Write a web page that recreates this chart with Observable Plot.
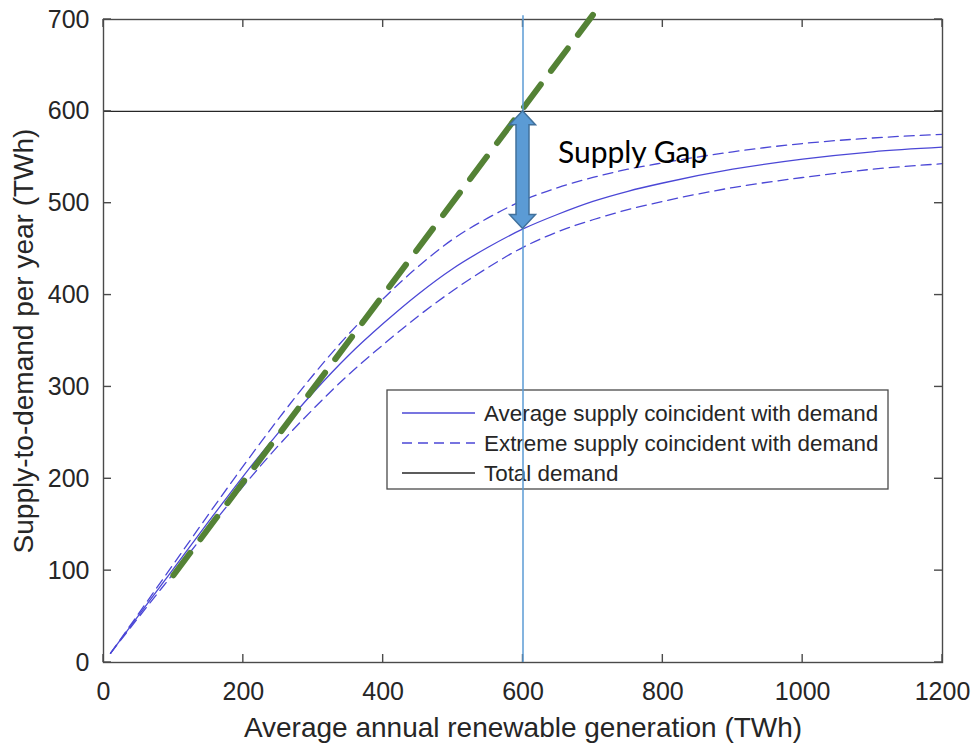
<!DOCTYPE html>
<html>
<head>
<meta charset="utf-8">
<script src="https://cdn.jsdelivr.net/npm/d3@7"></script>
<script src="https://cdn.jsdelivr.net/npm/@observablehq/plot@0.6"></script>
<style>
  html, body { margin: 0; padding: 0; background: #ffffff; }
  #chart { position: relative; width: 973px; height: 743px; }
</style>
</head>
<body>
<div id="chart"></div>
<script>
// ---- data ----
const xGen        = [10, 50, 100, 150, 200, 250, 300, 350, 400, 450, 500, 550, 600, 650, 700, 750, 800, 900, 1000, 1100, 1200];
const avgSupply   = [10, 51, 102, 153, 203, 250, 294, 334, 369, 401, 429, 452, 472, 488, 502, 513, 522, 537, 548, 556, 561];
const extremeHigh = [10, 53, 107, 161, 214, 265, 313, 357, 396, 431, 461, 484, 503, 517, 528, 537, 544, 556, 565, 571, 575];
const extremeLow  = [10, 49, 97, 145, 192, 236, 276, 313, 346, 377, 405, 430, 452, 469, 482, 493, 502, 517, 528, 537, 543];
const totalDemand = [600];
const greenX = [100, 700];
const greenY = [95, 705];
const gapX = [600];
const gapTop = [600];
const gapBottom = [472];
const ruleExtent = [0, 704];
const gapLabel = ["Supply Gap"];
const gapLabelX = [650];
const gapLabelY = [554];
const xTicks = [0, 200, 400, 600, 800, 1000, 1200];
const yTicks = [0, 100, 200, 300, 400, 500, 600, 700];
const xLabel = "Average annual renewable generation (TWh)";
const yLabel = "Supply-to-demand per year (TWh)";
const legendLabels = ["Average supply coincident with demand", "Extreme supply coincident with demand", "Total demand"];

const rows = xGen.map((x, i) => ({x, avg: avgSupply[i], hi: extremeHigh[i], lo: extremeLow[i]}));
const greenRows = greenX.map((x, i) => ({x, y: greenY[i]}));

const axisColor = "#4a4a4a";
const textColor = "#262626";
const curveBlue = "#4b47d6";

// inward tick marks on all four sides, positioned through the plot scales
function tickMarks(index, scales, values, dims) {
  const g = d3.create("svg:g").attr("stroke", axisColor).attr("stroke-width", 1.4);
  const L = dims.marginLeft, R = dims.width - dims.marginRight;
  const T = dims.marginTop, B = dims.height - dims.marginBottom;
  const len = 8;
  for (const t of xTicks) {
    const px = scales.x(t);
    g.append("line").attr("x1", px).attr("x2", px).attr("y1", B).attr("y2", B - len);
    g.append("line").attr("x1", px).attr("x2", px).attr("y1", T).attr("y2", T + len);
  }
  for (const t of yTicks) {
    const py = scales.y(t);
    g.append("line").attr("x1", L).attr("x2", L + len).attr("y1", py).attr("y2", py);
    g.append("line").attr("x1", R).attr("x2", R - len).attr("y1", py).attr("y2", py);
  }
  return g.node();
}

// legend box inside the axes
function legendMark(index, scales, values, dims) {
  const x0 = dims.marginLeft + 284, y0 = dims.marginTop + 371;
  const w = 501, h = 99;
  const g = d3.create("svg:g");
  g.append("rect").attr("x", x0).attr("y", y0).attr("width", w).attr("height", h)
    .attr("fill", "white").attr("stroke", axisColor).attr("stroke-width", 1.3);
  const styles = [
    {stroke: curveBlue, dash: null},
    {stroke: curveBlue, dash: "10,6"},
    {stroke: "#262626", dash: null}
  ];
  legendLabels.forEach((lab, i) => {
    const cy = y0 + 23 + i * 30;
    const ln = g.append("line").attr("x1", x0 + 15).attr("x2", x0 + 88).attr("y1", cy).attr("y2", cy)
      .attr("stroke", styles[i].stroke).attr("stroke-width", 1.3);
    if (styles[i].dash) ln.attr("stroke-dasharray", styles[i].dash);
    g.append("text").attr("x", x0 + 97).attr("y", cy).attr("dy", "0.35em")
      .attr("text-anchor", "start")
      .attr("font-family", "Liberation Sans, Arial, sans-serif").attr("font-size", 22.4)
      .attr("fill", textColor).text(lab);
  });
  return g.node();
}

// double-headed block arrow for the supply gap
function gapArrow(index, scales, values, dims) {
  const g = d3.create("svg:g");
  gapX.forEach((gx, i) => {
    const cx = scales.x(gx), yt = scales.y(gapTop[i]), yb = scales.y(gapBottom[i]);
    const hl = 14, hw = 13, sw = 6.5;
    const pts = [
      [cx, yt], [cx + hw, yt + hl], [cx + sw, yt + hl], [cx + sw, yb - hl], [cx + hw, yb - hl],
      [cx, yb], [cx - hw, yb - hl], [cx - sw, yb - hl], [cx - sw, yt + hl], [cx - hw, yt + hl]
    ];
    g.append("polygon").attr("points", pts.map(p => p.join(",")).join(" "))
      .attr("fill", "#5b9bd5").attr("stroke", "#41719c").attr("stroke-width", 1.5)
      .attr("stroke-linejoin", "miter");
  });
  return g.node();
}

const chart = Plot.plot({
  width: 973,
  height: 743,
  marginLeft: 103,
  marginRight: 31,
  marginTop: 19,
  marginBottom: 81,
  style: {background: "white", fontFamily: "Liberation Sans, Arial, sans-serif", color: textColor, overflow: "visible"},
  x: {domain: [0, 1200]},
  y: {domain: [0, 700]},
  marks: [
    Plot.axisX({ticks: xTicks, tickSize: 0, tickPadding: 20, fontSize: 25, label: null, tickFormat: d => String(d), fill: textColor}),
    Plot.axisY({ticks: yTicks, tickSize: 0, tickPadding: 14, fontSize: 25, label: null, tickFormat: d => String(d), fill: textColor}),
    Plot.text([xLabel], {text: d => d, frameAnchor: "bottom", dy: 66, fontSize: 28, fill: textColor, textAnchor: "middle", lineAnchor: "middle"}),
    Plot.text([yLabel], {text: d => d, frameAnchor: "left", dx: -79, rotate: -90, fontSize: 28, fill: textColor, textAnchor: "middle", lineAnchor: "middle"}),
    legendMark,
    Plot.ruleY(totalDemand, {y: d => d, stroke: "#262626", strokeWidth: 1.3}),
    Plot.line(rows, {x: "x", y: "hi", stroke: curveBlue, strokeWidth: 1.3, strokeDasharray: "10,6", curve: "monotone-x"}),
    Plot.line(rows, {x: "x", y: "lo", stroke: curveBlue, strokeWidth: 1.3, strokeDasharray: "10,6", curve: "monotone-x"}),
    Plot.line(rows, {x: "x", y: "avg", stroke: curveBlue, strokeWidth: 1.3, curve: "monotone-x"}),
    Plot.frame({stroke: axisColor, strokeWidth: 1.4}),
    tickMarks,
    Plot.line(greenRows, {x: "x", y: "y", stroke: "#548235", strokeWidth: 6, strokeDasharray: "28,17"}),
    Plot.ruleX(gapX, {x: d => d, y1: ruleExtent[0], y2: ruleExtent[1], stroke: "#5b9bd5", strokeWidth: 1.5}),
    gapArrow,
    Plot.text(gapLabel, {x: (d, i) => gapLabelX[i], y: (d, i) => gapLabelY[i], text: d => d, textAnchor: "start", fontSize: 30, fontFamily: "Lato", fill: "#000000"})
  ]
});

document.getElementById("chart").appendChild(chart);
</script>
</body>
</html>
